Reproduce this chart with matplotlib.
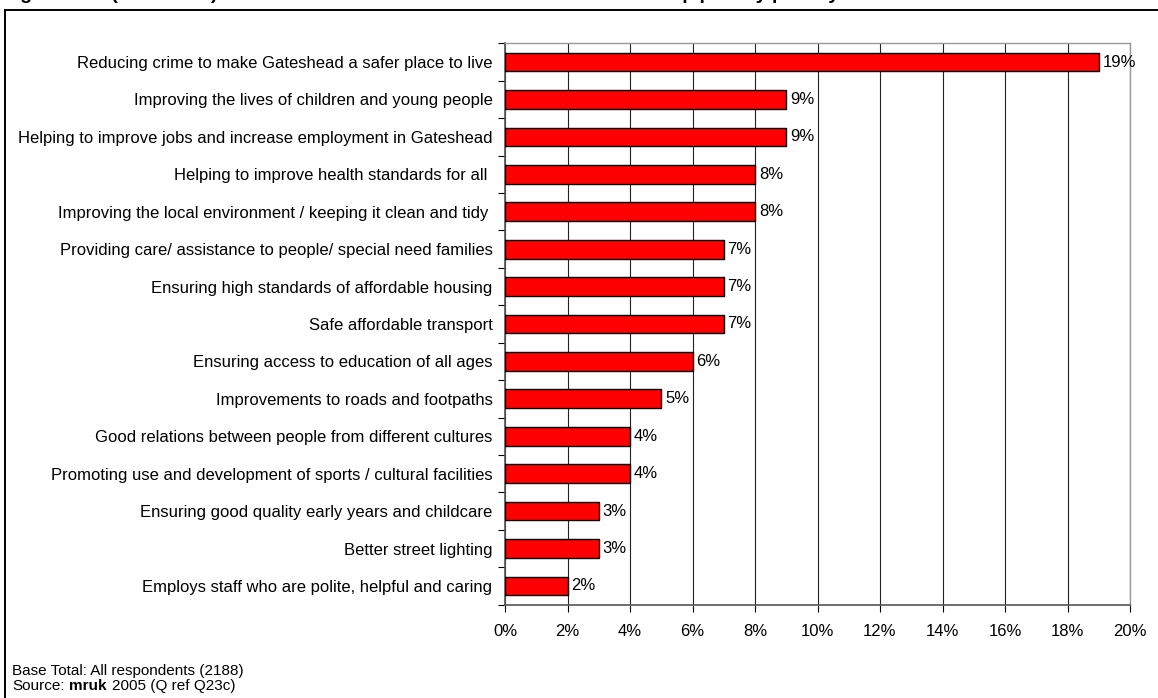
import matplotlib
matplotlib.use("Agg")
import matplotlib.pyplot as plt
from matplotlib.patches import Rectangle
from matplotlib.ticker import MultipleLocator, FuncFormatter
import numpy as np

plt.rcParams["font.family"] = ["Liberation Sans", "DejaVu Sans"]

# Priorities, top to bottom as listed
categories = [
    "Reducing crime to make Gateshead a safer place to live",
    "Improving the lives of children and young people",
    "Helping to improve jobs and increase employment in Gateshead",
    "Helping to improve health standards for all ",
    "Improving the local environment / keeping it clean and tidy ",
    "Providing care/ assistance to people/ special need families",
    "Ensuring high standards of affordable housing",
    "Safe affordable transport",
    "Ensuring access to education of all ages",
    "Improvements to roads and footpaths",
    "Good relations between people from different cultures",
    "Promoting use and development of sports / cultural facilities",
    "Ensuring good quality early years and childcare",
    "Better street lighting",
    "Employs staff who are polite, helpful and caring",
]
percent = [19, 9, 9, 8, 8, 7, 7, 7, 6, 5, 4, 4, 3, 3, 2]

W, H = 1158, 698
FS = 12
fig = plt.figure(figsize=(W / 100, H / 100), dpi=100)

# outer frame, runs off the right and bottom edges
fig.add_artist(Rectangle((5 / W, -0.1), 1.2, 1 - 10 / H + 0.1,
                         transform=fig.transFigure, fill=False,
                         edgecolor="black", linewidth=1.4))

# heading sits above the top edge; only descenders reach the canvas
fig.text(3 / W, 1 + 1.0 / H,
         "Figure 4.21 (continued): Issues residents think should be the Council's top priority priority",
         fontsize=14, fontweight="bold", ha="left", va="baseline")

left, right = 505 / W, 1130 / W
top, bottom = 1 - 43.3 / H, 1 - 604.7 / H
ax = fig.add_axes([left, bottom, right - left, top - bottom])

y = np.arange(len(categories))
ax.barh(y, percent, height=0.5, color="#ff0000", edgecolor="black",
        linewidth=1.0, zorder=3)
for yi, v in zip(y, percent):
    ax.text(v + 0.12, yi, f"{v}%", va="center", ha="left", fontsize=FS)

ax.set_xlim(0, 20)
ax.set_ylim(len(categories) - 0.5, -0.5)
ax.xaxis.set_major_locator(MultipleLocator(2))
ax.xaxis.set_major_formatter(FuncFormatter(lambda v, p: f"{v:.0f}%"))
ax.grid(axis="x", color="#222222", linewidth=0.8, zorder=0)

ax.set_yticks(y)
ax.set_yticklabels(categories, fontsize=FS)
ax.set_yticks(np.arange(len(categories) + 1) - 0.5, minor=True)
ax.tick_params(axis="y", which="major", length=0, pad=9)
ax.tick_params(axis="y", which="minor", length=5, direction="out", width=0.8)
ax.tick_params(axis="x", length=5, direction="out", width=0.8, pad=9,
               labelsize=FS)

for s in ("left", "bottom"):
    ax.spines[s].set_color("#555555")
    ax.spines[s].set_linewidth(1.2)
for s in ("top", "right"):
    ax.spines[s].set_color("#999999")
    ax.spines[s].set_linewidth(1.0)

# footnote; the source line is chained so the bold word sits inline
FN = 11
fig.text(12 / W, 1 - 671 / H, "Base Total: All respondents (2188)",
         fontsize=FN, va="center")
t1 = fig.text(12 / W, 1 - 686 / H, "Source:", fontsize=FN, va="center")
t2 = ax.annotate("mruk", xy=(1, 0.5), xycoords=t1, xytext=(3.5, 0),
                 textcoords="offset points", fontsize=FN, fontweight="bold",
                 va="center", ha="left", annotation_clip=False)
ax.annotate("2005 (Q ref Q23c)", xy=(1, 0.5), xycoords=t2, xytext=(3.5, 0),
            textcoords="offset points", fontsize=FN, va="center", ha="left",
            annotation_clip=False)

fig.savefig("out.png", dpi=100)
